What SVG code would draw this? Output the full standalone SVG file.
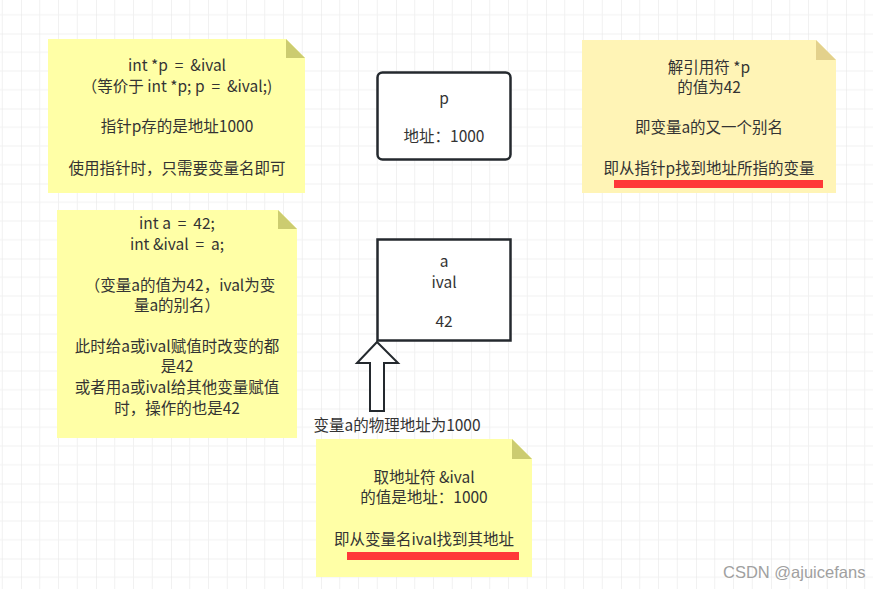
<svg xmlns="http://www.w3.org/2000/svg" width="873" height="589" viewBox="0 0 873 589">
<style>
text{font-family:"Noto Sans CJK SC","Microsoft YaHei",sans-serif;font-size:15.5px;fill:#333;text-anchor:middle}
.pre{white-space:pre}
.note-y{fill:#ffffa6}
.fold-y{fill:#cccc70}
.note-o{fill:#fff4b6}
.fold-o{fill:#e3d18c}
.box{fill:#fff;stroke:#24292e;stroke-width:2.5}
.red{fill:#ff3838}
.wm{fill:#a0a0a0;font-family:"Liberation Sans",Arial,sans-serif;font-size:16.5px;text-anchor:start}
</style>
<defs>
<pattern id="grid" patternUnits="userSpaceOnUse" x="21" y="33.5" width="75" height="75">
<path d="M18.75 0V75M37.5 0V75M56.25 0V75M0 18.75H75M0 37.5H75M0 56.25H75" stroke="#f1f1f1" stroke-width="1" fill="none"/>
<path d="M0 0V75M0 0H75" stroke="#e4e4e4" stroke-width="1" fill="none"/>
</pattern>
</defs>
<rect width="873" height="589" fill="#fff"/>
<rect width="873" height="589" fill="url(#grid)"/>

<g id="note-pointer">
<path class="note-y" d="M48 39H286L305 58V193H48Z"/>
<path class="fold-y" d="M286 39L305 58H286Z"/>
<text class="pre" xml:space="preserve" x="177" y="71">int *p  =  &amp;ival</text>
<text class="pre" xml:space="preserve" x="177" y="92">（等价于 int *p; p  =  &amp;ival;)</text>
<text x="177" y="132">指针p存的是地址1000</text>
<text x="177" y="174">使用指针时，只需要变量名即可</text>
</g>

<g id="note-ref">
<path class="note-y" d="M57 210H278L297 229V438H57Z"/>
<path class="fold-y" d="M278 210L297 229H278Z"/>
<text class="pre" xml:space="preserve" x="177" y="229">int a  =  42;</text>
<text class="pre" xml:space="preserve" x="177" y="250">int &amp;ival  =  a;</text>
<text x="180" y="291">（变量a的值为42，ival为变</text>
<text x="177" y="311">量a的别名）</text>
<text x="177" y="352">此时给a或ival赋值时改变的都</text>
<text x="177" y="372">是42</text>
<text x="177" y="393">或者用a或ival给其他变量赋值</text>
<text x="177" y="414">时，操作的也是42</text>
</g>

<g id="box-p">
<rect class="box" x="377.5" y="72.5" width="133" height="87" rx="5"/>
<text x="444" y="104">p</text>
<text x="444" y="142">地址：1000</text>
</g>

<g id="box-a">
<rect class="box" x="377.5" y="239.5" width="133" height="101"/>
<text x="444" y="267">a</text>
<text x="444" y="288">ival</text>
<text x="444" y="327">42</text>
</g>

<g id="connectors">
<path d="M377 342L398 363H384V411H370V363H357Z" fill="#fff" stroke="#24292e" stroke-width="2" stroke-linejoin="miter"/>
<text x="397" y="431">变量a的物理地址为1000</text>
</g>

<g id="note-addr">
<path class="note-y" d="M316 439H512L532 459V577H316Z"/>
<path class="fold-y" d="M512 439L532 459H512Z"/>
<text x="424" y="483">取地址符 &amp;ival</text>
<text x="424" y="503">的值是地址：1000</text>
<text x="424" y="545">即从变量名ival找到其地址</text>
<rect class="red" x="347" y="552" width="172" height="8"/>
</g>

<g id="note-deref">
<path class="note-o" d="M582 40H816L836 60V193H582Z"/>
<path class="fold-o" d="M816 40L836 60H816Z"/>
<text x="709" y="73">解引用符 *p</text>
<text x="709" y="93">的值为42</text>
<text x="709" y="133">即变量a的又一个别名</text>
<text x="709" y="174">即从指针p找到地址所指的变量</text>
<rect class="red" x="614" y="180" width="209" height="8"/>
</g>

<text class="wm" x="723" y="578">CSDN @ajuicefans</text>
</svg>
